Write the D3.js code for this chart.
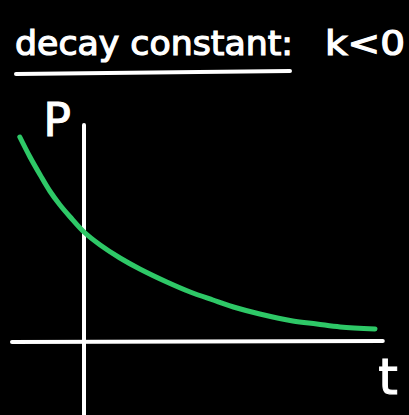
<!DOCTYPE html>
<html>
<head>
<meta charset="utf-8">
<script src="https://cdn.jsdelivr.net/npm/d3@7"></script>
<style>
  html, body { margin: 0; padding: 0; background: #000; }
  svg { display: block; }
</style>
</head>
<body>
<svg id="chart"></svg>
<script>
// sketch data: decay curve P(t)
var tValues = [-1.07, -0.90, -0.73, -0.57, -0.40, -0.23, 0.00, 0.27, 0.60, 0.93, 1.38, 1.77, 2.15, 2.55, 2.93, 3.48, 3.88, 4.27, 4.85];
var pValues = [2.04, 1.84, 1.66, 1.50, 1.36, 1.24, 1.09, 0.96, 0.83, 0.72, 0.59, 0.49, 0.41, 0.33, 0.27, 0.20, 0.17, 0.14, 0.12];
var tExtent = [-1.2, 4.98];   // horizontal axis runs over this
var pExtent = [2.16, -0.74];  // vertical axis runs from top to below origin
var titleMain = "decay constant:";
var titleRight = "k<0";
var xLabel = "t";
var yLabel = "P";

var width = 409, height = 415;

var svg = d3.select("#chart")
    .attr("width", width)
    .attr("height", height);

svg.append("rect")
  .attr("width", width)
  .attr("height", height)
  .attr("fill", "#000");

// scales (1 unit of t = 60px, 1 unit of P = 100px)
var x = d3.scaleLinear().domain([0, 1]).range([84, 144]);
var y = d3.scaleLinear().domain([0, 1]).range([341, 241]);

// title
svg.append("text")
  .attr("x", 15)
  .attr("y", 55)
  .attr("font-family", "DejaVu Sans, sans-serif")
  .attr("font-size", 33)
  .attr("fill", "#fff")
  .attr("stroke", "#fff")
  .attr("stroke-width", 1.2)
  .attr("textLength", 278)
  .attr("lengthAdjust", "spacingAndGlyphs")
  .text(titleMain);

svg.append("text")
  .attr("x", 325)
  .attr("y", 55)
  .attr("font-family", "DejaVu Sans, sans-serif")
  .attr("font-size", 33)
  .attr("fill", "#fff")
  .attr("stroke", "#fff")
  .attr("stroke-width", 1.2)
  .attr("textLength", 80)
  .attr("lengthAdjust", "spacingAndGlyphs")
  .text(titleRight);

// underline of the title
svg.append("line")
  .attr("x1", 16).attr("y1", 74)
  .attr("x2", 290).attr("y2", 71)
  .attr("stroke", "#fff")
  .attr("stroke-width", 4)
  .attr("stroke-linecap", "round");

// axes
svg.append("line")
  .attr("x1", x(0)).attr("y1", y(pExtent[0]))
  .attr("x2", x(0)).attr("y2", y(pExtent[1]))
  .attr("stroke", "#fff")
  .attr("stroke-width", 4)
  .attr("stroke-linecap", "round");

svg.append("line")
  .attr("x1", x(tExtent[0])).attr("y1", y(0) + 1)
  .attr("x2", x(tExtent[1])).attr("y2", y(0))
  .attr("stroke", "#fff")
  .attr("stroke-width", 4)
  .attr("stroke-linecap", "round");

// axis labels
svg.append("text")
  .attr("x", 57)
  .attr("y", 136)
  .attr("text-anchor", "middle")
  .attr("font-family", "DejaVu Sans, sans-serif")
  .attr("font-size", 46)
  .attr("fill", "#fff")
  .attr("stroke", "#fff")
  .attr("stroke-width", 1)
  .text(yLabel);

svg.append("text")
  .attr("x", 388)
  .attr("y", 394)
  .attr("text-anchor", "middle")
  .attr("font-family", "DejaVu Sans, sans-serif")
  .attr("font-size", 50)
  .attr("fill", "#fff")
  .attr("stroke", "#fff")
  .attr("stroke-width", 1)
  .text(xLabel);

// decay curve
var points = tValues.map(function(t, i) { return [t, pValues[i]]; });

var line = d3.line()
  .x(function(d) { return x(d[0]); })
  .y(function(d) { return y(d[1]); })
  .curve(d3.curveCatmullRom);

svg.append("path")
  .datum(points)
  .attr("d", line)
  .attr("fill", "none")
  .attr("stroke", "#2ec867")
  .attr("stroke-width", 5)
  .attr("stroke-linecap", "round");
</script>
</body>
</html>
